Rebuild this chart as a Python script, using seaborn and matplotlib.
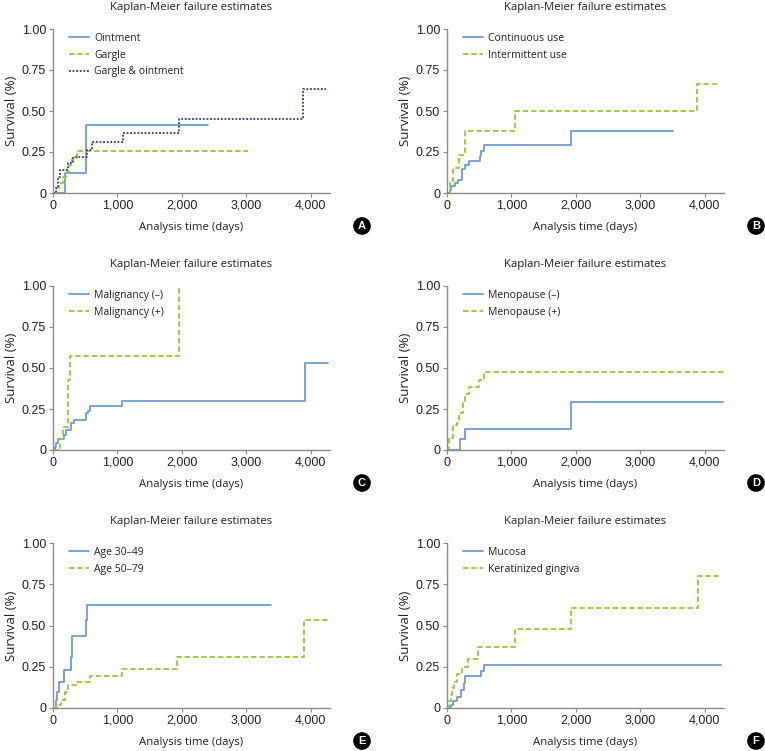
import matplotlib
matplotlib.use("Agg")
import matplotlib.pyplot as plt
import seaborn as sns
import pandas as pd

# ---- data (time in days, cumulative failure) ----
a_labels = ["Ointment", "Gargle", "Gargle & ointment"]
a_oint_t = [0, 190, 520, 2400]
a_oint_v = [0, 0.125, 0.413, 0.413]
a_garg_t = [0, 60, 100, 150, 200, 250, 300, 370, 3025]
a_garg_v = [0, 0.03, 0.06, 0.10, 0.13, 0.17, 0.21, 0.258, 0.258]
a_go_t = [0, 50, 75, 115, 230, 310, 530, 600, 1080, 1950, 3885, 4235]
a_go_v = [0, 0.03, 0.10, 0.138, 0.183, 0.222, 0.262, 0.311, 0.366, 0.451, 0.632, 0.632]

b_labels = ["Continuous use", "Intermittent use"]
b_cont_t = [0, 40, 60, 120, 170, 235, 285, 340, 505, 530, 580, 1930, 3505]
b_cont_v = [0, 0.02, 0.045, 0.063, 0.081, 0.146, 0.173, 0.193, 0.225, 0.258, 0.291, 0.380, 0.380]
b_int_t = [0, 40, 90, 180, 275, 1050, 3885, 4220]
b_int_v = [0, 0.076, 0.152, 0.232, 0.380, 0.502, 0.667, 0.667]

c_labels = ["Malignancy (\u2013)", "Malignancy (+)"]
c_neg_t = [0, 25, 50, 78, 166, 208, 275, 327, 509, 545, 582, 1075, 3912, 4275]
c_neg_v = [0, 0.02, 0.04, 0.07, 0.09, 0.12, 0.165, 0.181, 0.224, 0.24, 0.268, 0.299, 0.533, 0.533]
c_pos_t = [0, 110, 156, 234, 260, 1958]
c_pos_v = [0, 0.07, 0.14, 0.427, 0.573, 1.0]

d_labels = ["Menopause (\u2013)", "Menopause (+)"]
d_neg_t = [0, 208, 285, 1930, 4285]
d_neg_v = [0, 0.065, 0.126, 0.295, 0.295]
d_pos_t = [0, 30, 90, 150, 190, 245, 285, 340, 495, 580, 4285]
d_pos_v = [0, 0.076, 0.152, 0.165, 0.224, 0.30, 0.34, 0.382, 0.427, 0.476, 0.476]

e_labels = ["Age 30\u201349", "Age 50\u201379"]
e_young_t = [0, 40, 65, 88, 170, 280, 296, 510, 530, 3387]
e_young_v = [0, 0.05, 0.10, 0.157, 0.228, 0.31, 0.438, 0.536, 0.627, 0.627]
e_old_t = [0, 75, 130, 180, 234, 353, 582, 1065, 1922, 3896, 4275]
e_old_v = [0, 0.02, 0.05, 0.10, 0.138, 0.159, 0.196, 0.234, 0.312, 0.536, 0.536]

f_labels = ["Mucosa", "Keratinized gingiva"]
f_muc_t = [0, 55, 94, 156, 218, 260, 285, 530, 580, 4260]
f_muc_v = [0, 0.02, 0.043, 0.065, 0.108, 0.149, 0.193, 0.226, 0.263, 0.263]
f_ker_t = [0, 30, 55, 80, 110, 156, 234, 327, 478, 1050, 1927, 3896, 4250]
f_ker_v = [0, 0.04, 0.08, 0.12, 0.16, 0.204, 0.25, 0.30, 0.369, 0.477, 0.605, 0.80, 0.80]

panel_letters = ["A", "B", "C", "D", "E", "F"]
title_text = "Kaplan-Meier failure estimates"
x_ticks = [0, 1000, 2000, 3000, 4000]
x_ticklabels = ["0", "1,000", "2,000", "3,000", "4,000"]
y_ticks = [0, 0.25, 0.5, 0.75, 1.0]
y_ticklabels = ["0", "0.25", "0.50", "0.75", "1.00"]

BLUE = "#6f9bd2"
GREEN = "#94c83d"
NAVY = "#2e3a8c"
DASH = (0, (3, 1.6))
DOT = (0, (1, 1))

panels = [
    [(a_oint_t, a_oint_v, a_labels[0], BLUE, "-"),
     (a_garg_t, a_garg_v, a_labels[1], GREEN, DASH),
     (a_go_t, a_go_v, a_labels[2], NAVY, DOT)],
    [(b_cont_t, b_cont_v, b_labels[0], BLUE, "-"),
     (b_int_t, b_int_v, b_labels[1], GREEN, DASH)],
    [(c_neg_t, c_neg_v, c_labels[0], BLUE, "-"),
     (c_pos_t, c_pos_v, c_labels[1], GREEN, DASH)],
    [(d_neg_t, d_neg_v, d_labels[0], BLUE, "-"),
     (d_pos_t, d_pos_v, d_labels[1], GREEN, DASH)],
    [(e_young_t, e_young_v, e_labels[0], BLUE, "-"),
     (e_old_t, e_old_v, e_labels[1], GREEN, DASH)],
    [(f_muc_t, f_muc_v, f_labels[0], BLUE, "-"),
     (f_ker_t, f_ker_v, f_labels[1], GREEN, DASH)],
]

sns.set_theme(style="white")
plt.rcParams["font.family"] = ["Liberation Sans", "DejaVu Sans"]

W, H = 765, 751
fig = plt.figure(figsize=(W / 100, H / 100), dpi=100)

lefts = [53, 447]
ax_w = 277
rows = [(29, 193), (286, 450), (543, 708)]
TXT = "Open Sans"
GRAY = "#8a8a8a"
INK = "#222222"

for i, series in enumerate(panels):
    r, c = divmod(i, 2)
    top, bot = rows[r]
    ax = fig.add_axes([lefts[c] / W, (H - bot) / H, ax_w / W, (bot - top) / H])
    for t, v, lab, col, ls in series:
        df = pd.DataFrame({"time": t, "fail": v})
        sns.lineplot(data=df, x="time", y="fail", ax=ax, color=col, linestyle=ls,
                     linewidth=1.3, drawstyle="steps-post", label=lab, sort=False)
    ax.set_xlim(0, 4300)
    ax.set_ylim(0, 1.0)
    ax.set_xticks(x_ticks)
    ax.set_xticklabels(x_ticklabels, fontsize=9, color=INK)
    ax.set_yticks(y_ticks)
    ax.set_yticklabels(y_ticklabels, fontsize=9, color=INK)
    ax.tick_params(axis="both", direction="out", length=3, width=0.8, color=GRAY, pad=2,
                   bottom=True, left=True)
    for s in ["top", "right"]:
        ax.spines[s].set_visible(False)
    for s in ["left", "bottom"]:
        ax.spines[s].set_color(GRAY)
        ax.spines[s].set_linewidth(1.0)
    ax.set_xlabel("Analysis time (days)", fontsize=8.2, family=TXT, color=INK, labelpad=7)
    ax.set_ylabel("Survival (%)", fontsize=9.5, family=TXT, color=INK, labelpad=3)
    ax.set_title(title_text, fontsize=8.2, family=TXT, color=INK, pad=14)
    leg = ax.legend(loc="upper left", bbox_to_anchor=(0.03, 1.02), frameon=False,
                    handlelength=2.0, handletextpad=0.45, labelspacing=0.55,
                    prop={"family": TXT, "size": 7.5}, borderaxespad=0.3)
    for txt in leg.get_texts():
        txt.set_color(INK)
    # circled panel letter
    cx = lefts[c] + 309
    cy = bot + 33
    fig.text(cx / W, 1 - cy / H, panel_letters[i], ha="center", va="center",
             fontsize=8, fontweight="bold", color="white",
             bbox=dict(boxstyle="circle,pad=0.28", fc="black", ec="black"))

fig.savefig("out.png", dpi=100)
